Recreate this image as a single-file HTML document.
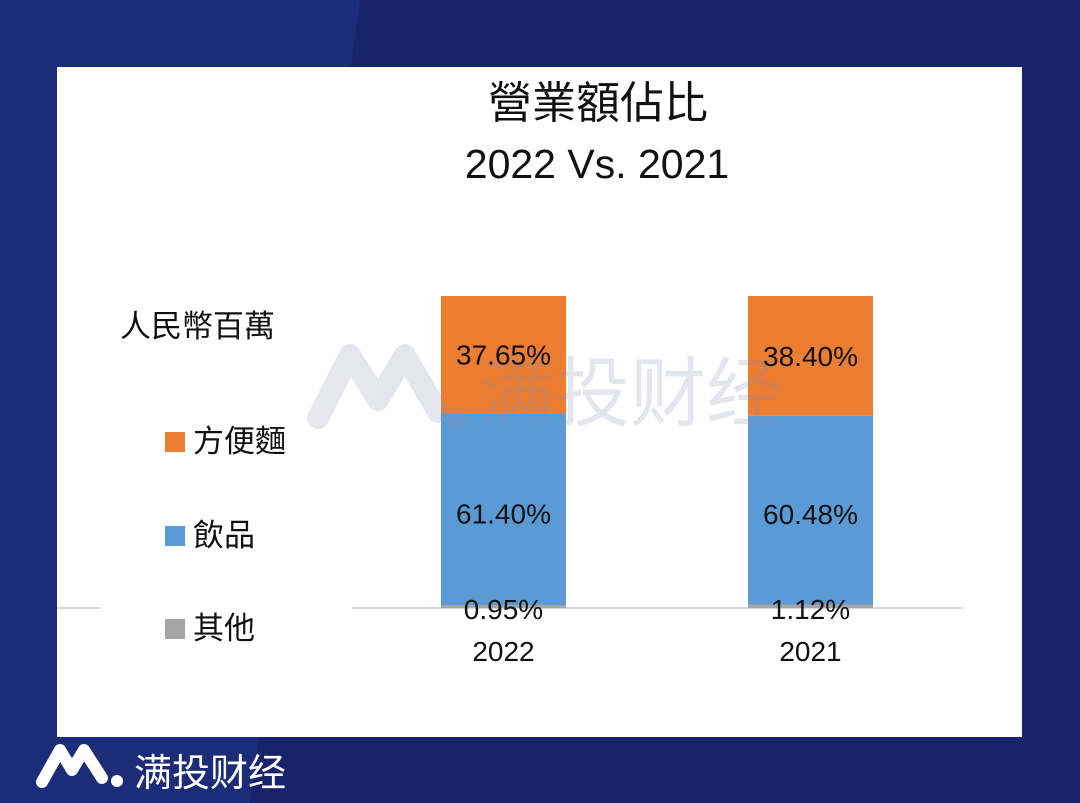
<!DOCTYPE html>
<html><head><meta charset="utf-8"><style>
html,body{margin:0;padding:0;width:1080px;height:803px;overflow:hidden;background:#17236a;font-family:"Liberation Sans","Noto Sans CJK TC",sans-serif}
</style></head><body>
<svg width="1080" height="803" xmlns="http://www.w3.org/2000/svg" style="font-family:'Liberation Sans','Noto Sans CJK TC',sans-serif">
<polygon points="0,0 360,0 250,803 0,803" fill="#1c2c78"/>
<rect x="57" y="67" width="965" height="670" fill="#fff"/>
<text x="598" y="118" text-anchor="middle" font-size="44" fill="#111">營業額佔比</text>
<text x="597" y="178" text-anchor="middle" font-size="41" fill="#111">2022 Vs. 2021</text>
<text x="120" y="337" font-size="31" fill="#111">人民幣百萬</text>
<line x1="352" y1="608" x2="963" y2="608" stroke="#d9d9d9" stroke-width="2"/>
<line x1="57" y1="608" x2="100" y2="608" stroke="#d9d9d9" stroke-width="2"/>
<g id="bars"></g>
<g opacity="0.22">
<path d="M318,418 L350,355 L378,400 L405,355 L438,412" fill="none" stroke="#8a8fb0" stroke-width="22" stroke-linecap="round" stroke-linejoin="round"/>
<circle cx="458" cy="420" r="10" fill="#8a8fb0"/>
<text x="478" y="420" font-size="76" fill="#8a8fb0">满投财经</text>
</g>
<g id="labels"></g>
<g>
<rect x="165" y="432" width="20" height="20" fill="#ed7d31"/>
<text x="193" y="452" font-size="31" fill="#111">方便麵</text>
<rect x="165" y="526" width="20" height="20" fill="#5b9bd5"/>
<text x="193" y="546" font-size="31" fill="#111">飲品</text>
<rect x="165" y="619" width="20" height="20" fill="#a5a5a5"/>
<text x="193" y="639" font-size="31" fill="#111">其他</text>
</g>
<g>
<path d="M42,782 L60,750 L72,770 L84,750 L102,778" fill="none" stroke="#fff" stroke-width="12" stroke-linecap="round" stroke-linejoin="round"/>
<circle cx="117" cy="781" r="6" fill="#fff"/>
<text x="134" y="786" font-size="38" fill="#fff">满投财经</text>
</g>
</svg>
<script>
const categories=["2022","2021"];
const otherVals=[0.95,1.12];
const bevVals=[61.40,60.48];
const noodleVals=[37.65,38.40];
const NS="http://www.w3.org/2000/svg";
const g=document.getElementById('bars');
const gl=document.getElementById('labels');
const baseY=608,scale=3.12;
function yOf(v){return baseY-v*scale;}
function xOf(i){return 441+i*307;}
const bw=125;
function mk(par,tag,attrs){const e=document.createElementNS(NS,tag);for(const k in attrs)e.setAttribute(k,attrs[k]);par.appendChild(e);return e;}
function lbl(x,y,t){const e=mk(gl,'text',{x:x,y:y,'text-anchor':'middle','font-size':'28',fill:'#111'});e.textContent=t;return e;}
categories.forEach((c,i)=>{
  const x=xOf(i);
  const o=otherVals[i],b=bevVals[i],n=noodleVals[i];
  const r1=mk(g,'rect',{x:x,y:yOf(o),width:bw,height:o*scale,fill:'#a5a5a5'});
  
  
  const r2=mk(g,'rect',{x:x,y:yOf(o+b),width:bw,height:b*scale,fill:'#5b9bd5'});
  
  
  const r3=mk(g,'rect',{x:x,y:yOf(o+b+n),width:bw,height:n*scale,fill:'#ed7d31'});
  
  
  const cx=x+bw/2;
  const t1=lbl(cx,yOf(o+b+n/2)+10,n.toFixed(2)+'%');
  
  
  const t2=lbl(cx,yOf(o+b/2)+14,b.toFixed(2)+'%');
  
  
  const t3=lbl(cx,619,o.toFixed(2)+'%');
  
  
  const t4=lbl(cx,661,c);
  
  
});
</script>
</body></html>
